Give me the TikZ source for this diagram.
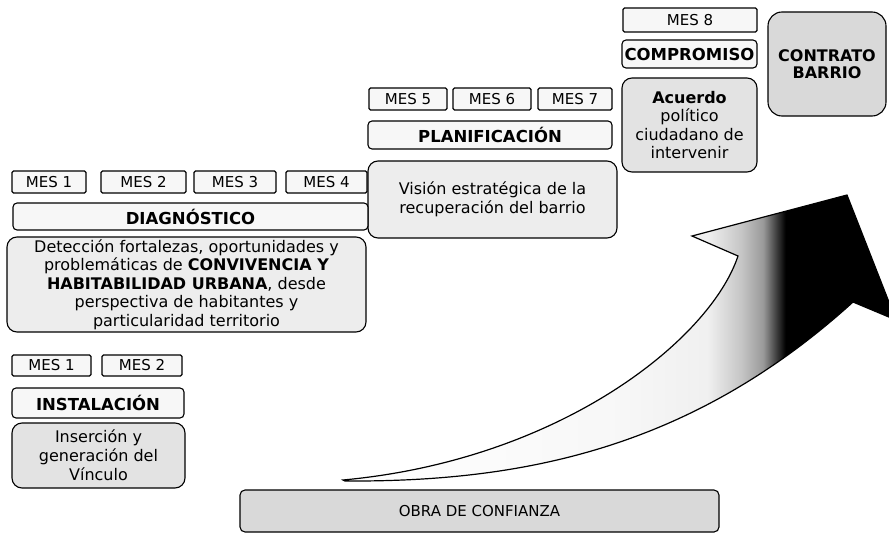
\documentclass[tikz,border=0pt]{standalone}
\usepackage{fontspec}
\setmainfont{DejaVu Sans}
\pgfdeclarehorizontalshading{arrowshade}{100bp}{color(0bp)=(white); color(25bp)=(white); color(50bp)=(gray!6); color(58bp)=(gray!12); color(61bp)=(gray!45); color(63bp)=(gray!80); color(65bp)=(black); color(100bp)=(black)}
\begin{document}
\begin{tikzpicture}[x=1pt,y=-1pt,
  box/.style={draw=black, line width=1.1pt, inner sep=0pt, align=center},
  sz/.style 2 args={minimum width=#1, minimum height=#2},
  mesbox/.style={box, rounded corners=1.5pt, fill=gray!6, font=\fontsize{15}{17}\selectfont},
  titlebox/.style={box, rounded corners=4pt, fill=gray!6, font=\bfseries\fontsize{16.5}{19}\selectfont},
  descbox/.style={box, rounded corners=10pt, fill=gray!14, font=\fontsize{16}{18.5}\selectfont},
  darkbox/.style={box, fill=gray!30, font=\fontsize{16}{18}\selectfont}
]
\useasboundingbox (0,0) rectangle (889,535);

% arrow
\begin{scope}
\clip (0,0) rectangle (889,535);
\path[shade, shading=arrowshade, draw=black, line width=1.2pt, line join=miter]
  (343,480) .. controls (560,460) and (710,340) .. (738,256)
  -- (692,236) -- (847,195) -- (896,320) -- (853,302)
  .. controls (690,450) and (520,482) .. (345,481) -- cycle;
\end{scope}

% top right group
\node[mesbox, sz={134}{24}] (m8) at (690,20) {MES 8};
\node[titlebox, sz={135}{28}] (comp) at (689.5,54) {COMPROMISO};
\node[descbox, sz={135}{94}, fill=gray!22] (acu) at (689.5,125) {\textbf{Acuerdo}\\político\\ciudadano de\\intervenir};
\node[darkbox, rounded corners=14pt, sz={118}{104}, font=\bfseries\fontsize{16}{17.5}\selectfont] (contr) at (827,64) {CONTRATO\\BARRIO};

% planificacion group
\node[mesbox, sz={78}{22}] (m5) at (408,99) {MES 5};
\node[mesbox, sz={78}{22}] (m6) at (492,99) {MES 6};
\node[mesbox, sz={74}{22}] (m7) at (575,99) {MES 7};
\node[titlebox, sz={244}{28}] (plan) at (490,135) {PLANIFICACIÓN};
\node[descbox, sz={249}{77}] (vis) at (492.5,199.5) {Visión estratégica de la\\recuperación del barrio};

% diagnostico group
\node[mesbox, sz={74}{22}] (d1) at (49,182) {MES 1};
\node[mesbox, sz={85}{22}] (d2) at (143.5,182) {MES 2};
\node[mesbox, sz={82}{22}] (d3) at (235,182) {MES 3};
\node[mesbox, sz={81}{22}] (d4) at (326.5,182) {MES 4};
\node[titlebox, sz={355}{27}] (diag) at (190.5,216.5) {DIAGNÓSTICO};
\node[descbox, sz={359}{95}] (det) at (186.5,284.5) {Detección fortalezas, oportunidades y\\problemáticas de \textbf{CONVIVENCIA Y}\\\textbf{HABITABILIDAD URBANA}, desde\\perspectiva de habitantes y\\particularidad territorio};

% instalacion group
\node[mesbox, sz={79}{21}] (i1) at (51.5,365.5) {MES 1};
\node[mesbox, sz={80}{21}] (i2) at (142,365.5) {MES 2};
\node[titlebox, sz={172}{30}] (inst) at (98,403) {INSTALACIÓN};
\node[descbox, sz={173}{65}, fill=gray!22, font=\fontsize{16}{19}\selectfont] (ins) at (98.5,455.5) {Inserción y\\generación del\\Vínculo};

% obra
\node[darkbox, rounded corners=5pt, sz={479}{42}, font=\fontsize{15}{17}\selectfont] (obra) at (479.5,511) {OBRA DE CONFIANZA};
\end{tikzpicture}
\end{document}
